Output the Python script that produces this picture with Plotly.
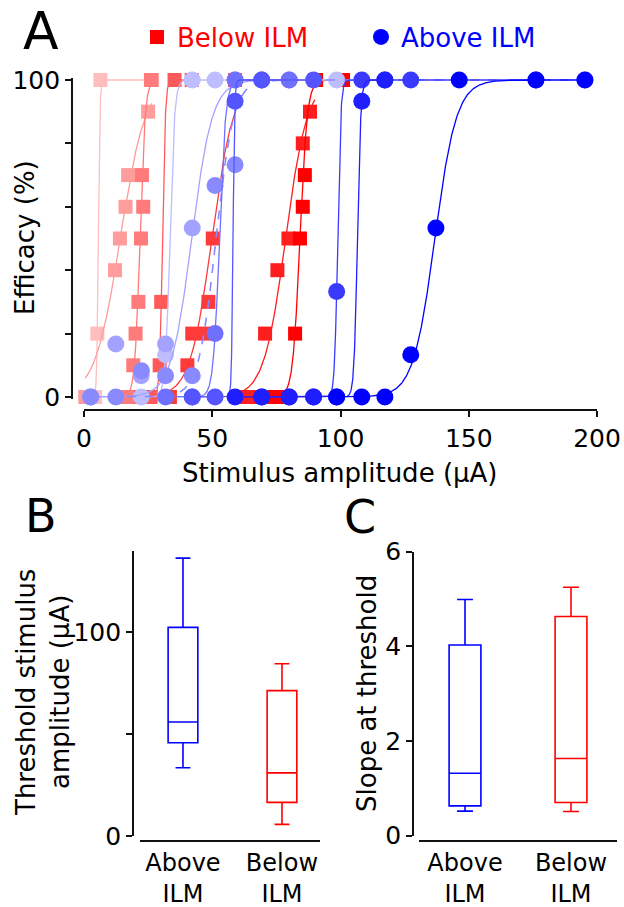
import numpy as np
import plotly.graph_objects as go

W, H = 624, 907
FONT = "DejaVu Sans"


def px(p):
    return p / W


def py(p):
    return 1 - p / H


# ---------------- Panel A data (Efficacy vs stimulus) ----------------
below_colors = ["#ffbdbd", "#ff9c9c", "#ff7a7a", "#ff5a5a", "#ff3a3a", "#ff1e1e", "#ff0000"]
below_x = [
    [4.3, 5.2, 6.4, 26.1],
    [0.5, 12.1, 14.0, 16.2, 17.2, 25.0, 26.5],
    [14.0, 17.0, 19.2, 20.1, 21.2, 22.2, 23.1, 22.6, 26.1],
    [22.2, 26.0, 29.5, 30.1, 35.3, 42.0],
    [33.5, 40.3, 42.2, 47.5, 48.5, 50.2, 58.9],
    [59.5, 62.5, 66.0, 70.6, 75.4, 79.7, 85.3, 88.1, 90.0],
    [70.0, 75.0, 79.0, 82.3, 84.2, 85.3, 86.1, 90.5, 101.0],
]
below_y = [
    [0, 20, 100, 100],
    [0, 40, 50, 60, 70, 90, 100],
    [0, 0, 10, 20, 30, 50, 60, 70, 100],
    [0, 0, 10, 30, 100, 100],
    [0, 10, 20, 20, 30, 50, 100],
    [0, 0, 0, 20, 40, 50, 80, 90, 100],
    [0, 0, 0, 20, 50, 60, 70, 100, 100],
]
below_threshold = [5.6, 14.1, 21.8, 30.6, 49.8, 78.6, 84.2]
below_width = [0.3, 4.9, 1.0, 0.55, 4.2, 4.2, 1.4]

above_colors = ["#bdbdff", "#a3a3ff", "#8a8aff", "#7070ff", "#5555ff", "#3a3aff", "#1e1eff", "#0000ff"]
above_x = [
    [22.3, 31.8, 42.2, 51.1, 98.5],
    [2.6, 12.4, 22.3, 31.8, 42.2, 58.9, 69.3],
    [2.6, 12.4, 22.4, 31.8, 42.2, 51.1, 58.9, 69.3, 80.0, 195.3],
    [31.8, 42.2, 51.1, 58.9, 80.0],
    [42.2, 51.1, 58.9, 69.3, 89.5],
    [69.3, 80.0, 89.5, 98.5, 108.3, 117.3, 127.4, 176.2],
    [58.9, 69.3, 80.0, 89.5, 98.5, 108.3, 117.3],
    [98.5, 108.3, 117.3, 127.4, 137.2, 146.3, 176.2, 195.3],
]
above_y = [
    [0, 13.3, 100, 100, 100],
    [0, 16.7, 6.7, 16.7, 53.3, 100, 100],
    [0, 0, 8.3, 6.7, 6.7, 66.7, 73.3, 100, 100, 100],
    [0, 0, 20, 100, 100],
    [0, 0, 93.3, 100, 100],
    [0, 0, 0, 33.3, 100, 100, 100, 100],
    [0, 0, 0, 0, 0, 93.3, 100],
    [0, 0, 0, 13.3, 53.3, 100, 100, 100],
]
above_threshold = [33.5, 42.0, 51.5, 52.8, 58.1, 98.9, 106.6, 136.8]
above_width = [0.9, 4.0, 3.4, 1.2, 0.3, 0.6, 0.65, 4.2]
above_dash = ["solid", "solid", "dash", "solid", "solid", "solid", "solid", "solid"]

# ---------------- Panel B / C data (box summaries) ----------------
groups = ["Above<br>ILM", "Below<br>ILM"]
group_colors = ["#0000ff", "#ff0000"]
thr_low = [33.5, 5.7]
thr_q1 = [45.8, 16.5]
thr_med = [56.0, 31.0]
thr_q3 = [102.5, 71.4]
thr_high = [136.5, 84.6]

slope_low = [0.52, 0.51]
slope_q1 = [0.63, 0.70]
slope_med = [1.32, 1.63]
slope_q3 = [4.03, 4.63]
slope_high = [4.99, 5.25]


def fit_curve(xs, t, s):
    xx = np.linspace(min(xs), max(xs), 800)
    return xx, 100.0 / (1.0 + np.exp(-(xx - t) / s))


fig = go.Figure()

for xs, ys, t, s, c in zip(below_x, below_y, below_threshold, below_width, below_colors):
    cx, cy = fit_curve(xs, t, s)
    fig.add_trace(go.Scatter(x=cx, y=cy, mode="lines", line=dict(color=c, width=1.3),
                             showlegend=False, hoverinfo="skip", xaxis="x", yaxis="y"))
    fig.add_trace(go.Scatter(x=xs, y=ys, mode="markers",
                             marker=dict(symbol="square", size=14, color=c, line=dict(width=0)),
                             cliponaxis=False, showlegend=False, xaxis="x", yaxis="y"))

for xs, ys, t, s, c, d in zip(above_x, above_y, above_threshold, above_width, above_colors, above_dash):
    cx, cy = fit_curve(xs, t, s)
    fig.add_trace(go.Scatter(x=cx, y=cy, mode="lines", line=dict(color=c, width=1.3 if d == "solid" else 1.6, dash=d),
                             showlegend=False, hoverinfo="skip", xaxis="x", yaxis="y"))
    fig.add_trace(go.Scatter(x=xs, y=ys, mode="markers",
                             marker=dict(symbol="circle", size=17, color=c, line=dict(width=0)),
                             cliponaxis=False, showlegend=False, xaxis="x", yaxis="y"))

# legend entries
fig.add_trace(go.Scatter(x=[None], y=[None], mode="markers",
                         marker=dict(symbol="square", size=14, color="#ff0000"),
                         name='<span style="color:#ff0000">Below ILM</span>', xaxis="x", yaxis="y"))
fig.add_trace(go.Scatter(x=[None], y=[None], mode="markers",
                         marker=dict(symbol="circle", size=16, color="#0000ff"),
                         name='<span style="color:#0000ff">Above ILM</span>', xaxis="x", yaxis="y"))

# Panel B
for i in range(2):
    fig.add_trace(go.Box(x=[i], q1=[thr_q1[i]], median=[thr_med[i]], q3=[thr_q3[i]],
                         lowerfence=[thr_low[i]], upperfence=[thr_high[i]],
                         width=0.3, whiskerwidth=0.5, fillcolor="rgba(255,255,255,0)",
                         line=dict(color=group_colors[i], width=1.6), showlegend=False,
                         xaxis="x2", yaxis="y2"))
# Panel C
for i in range(2):
    fig.add_trace(go.Box(x=[i], q1=[slope_q1[i]], median=[slope_med[i]], q3=[slope_q3[i]],
                         lowerfence=[slope_low[i]], upperfence=[slope_high[i]],
                         width=0.3, whiskerwidth=0.5, fillcolor="rgba(255,255,255,0)",
                         line=dict(color=group_colors[i], width=1.6), showlegend=False,
                         xaxis="x3", yaxis="y3"))

axis_common = dict(showline=True, linecolor="#111111", linewidth=1.6, showgrid=False, zeroline=False,
                   anchor="free", automargin=False)
tick25 = dict(family=FONT, size=25, color="black")
tick24 = dict(family=FONT, size=24, color="black")

fig.update_layout(
    width=W, height=H,
    margin=dict(l=0, r=0, t=0, b=0, autoexpand=False),
    paper_bgcolor="white", plot_bgcolor="white",
    font=dict(family=FONT, color="black"),
    hovermode=False,
    xaxis=dict(domain=[px(84), px(597)], range=[0, 200], position=py(410),
               ticks="outside", ticklen=6, tickwidth=1.6, tickcolor="#111111", tickfont=tick25,
               tickvals=[0, 50, 100, 150, 200], **axis_common),
    yaxis=dict(domain=[py(398.9), py(78.1)], range=[-0.6, 100.6], position=px(72),
               ticks="outside", ticklen=6, tickwidth=1.6, tickcolor="#111111", tickfont=tick25,
               tickvals=[0, 20, 40, 60, 80, 100], ticktext=["0", "", "", "", "", "100"], **axis_common),
    xaxis2=dict(domain=[px(140), px(320)], range=[-0.434, 1.384], position=py(841),
                ticks="", tickvals=[0, 1], ticktext=groups, tickfont=tick24, **axis_common),
    yaxis2=dict(domain=[py(836), py(551)], range=[0, 140], position=px(133),
                ticks="outside", ticklen=6, tickwidth=1.6, tickcolor="#111111", tickfont=tick25,
                tickvals=[0, 50, 100], ticktext=["0", "", "100"], **axis_common),
    xaxis3=dict(domain=[px(419), px(617)], range=[-0.434, 1.434], position=py(841),
                ticks="", tickvals=[0, 1], ticktext=groups, tickfont=tick24, **axis_common),
    yaxis3=dict(domain=[py(835.7), py(551.7)], range=[0, 6], position=px(413),
                ticks="outside", ticklen=6, tickwidth=1.6, tickcolor="#111111", tickfont=tick25,
                tickvals=[0, 2, 4, 6], **axis_common),
    legend=dict(orientation="h", x=px(137), y=py(37), xanchor="left", yanchor="middle",
                font=dict(family=FONT, size=26), entrywidth=179, entrywidthmode="pixels",
                itemsizing="trace", bgcolor="rgba(0,0,0,0)"),
)


def note(text, x, y, size, angle=0):
    fig.add_annotation(text=text, x=px(x), y=py(y), xref="paper", yref="paper",
                       xanchor="center", yanchor="middle", showarrow=False, textangle=angle,
                       font=dict(family=FONT, size=size, color="black"))


note("A", 41, 31, 52)
note("B", 41, 516, 46)
note("C", 360, 517, 46)
note("Efficacy (%)", 25, 238, 26, -90)
note("Stimulus amplitude (µA)", 340, 473, 26)
note("Threshold stimulus<br>amplitude (µA)", 43, 693, 26, -90)
note("Slope at threshold", 367, 694, 26, -90)

# remove the browser's default page margin so the figure fills the window exactly
fig.write_html("out.html", config={"displayModeBar": False},
               post_script="document.body.style.margin='0';")
